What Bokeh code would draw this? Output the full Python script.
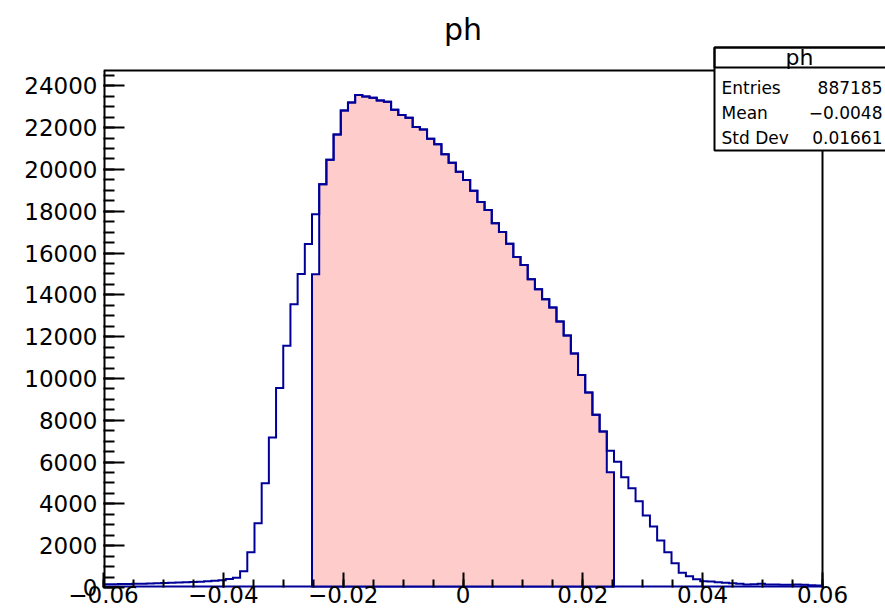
import numpy as np
from bokeh.plotting import figure
from bokeh.models import Range1d, FixedTicker, CustomJSTickFormatter, Label, BoxAnnotation
from bokeh.embed import file_html
from bokeh.resources import INLINE

# ---------------- data ----------------
plot_title = "ph"
x_min = -0.06
x_max = 0.06
n_bins = 100
counts = [
    150, 155, 165, 170, 180, 185, 195, 205, 215, 225,
    235, 250, 265, 280, 300, 320, 350, 410, 470, 779,
    1687, 3072, 4983, 7181, 9541, 11562, 13555, 15000, 16436, 17855,
    19288, 20463, 21677, 22824, 23206, 23555, 23493, 23426, 23302, 23235,
    22852, 22599, 22470, 22026, 21916, 21467, 21199, 20721, 20320, 19890,
    19500, 18985, 18442, 18060, 17425, 17009, 16450, 15815, 15432, 14749,
    14271, 13794, 13392, 12723, 12054, 11194, 10162, 9331, 8266, 7468,
    6546, 6020, 5270, 4743, 4123, 3440, 2914, 2246, 1687, 1162,
    707, 540, 397, 301, 287, 253, 225, 206, 177, 143,
    158, 177, 143, 143, 129, 129, 143, 129, 110, 96,
]
fill_first_bin = 29
fill_last_bin = 70
fill_edge_counts = [14990, 5509]   # partially filled edge bins of the shaded histogram

x_ticks = [-0.06, -0.04, -0.02, 0.0, 0.02, 0.04, 0.06]
x_tick_labels = ["\u22120.06", "\u22120.04", "\u22120.02", "0", "0.02", "0.04", "0.06"]
y_ticks = [0, 2000, 4000, 6000, 8000, 10000, 12000, 14000, 16000, 18000, 20000, 22000, 24000]
y_tick_labels = ["0", "2000", "4000", "6000", "8000", "10000", "12000", "14000",
                 "16000", "18000", "20000", "22000", "24000"]

stats_title = "ph"
stats_names = ["Entries", "Mean", "Std Dev"]
stats_values = ["887185", "\u22120.0048", "0.01661"]

# ---------------- style / layout ----------------
hist_color = "#000099"
fill_color = "#ffcccc"
FONT = "DejaVu Sans"
W, H = 885, 612
# pixel box of the ROOT frame inside the canvas
box_left_px, box_right_px, box_top_px, box_bottom_px = 103, 822, 70, 587

y_top = 1.05 * max(counts)
px_per_x = (box_right_px - box_left_px) / (x_max - x_min)
px_per_y = (box_bottom_px - box_top_px) / y_top
# the Bokeh frame spans the whole canvas right of / above the axes, so that the
# statistics box and the title (drawn as annotations) are not clipped
x_end = x_min + (W - box_left_px) / px_per_x
y_end = box_bottom_px / px_per_y


def sx(cx):
    return cx - box_left_px


def sy(cy):
    return box_bottom_px - cy


edges = np.linspace(x_min, x_max, n_bins + 1)


def step_path(e, vals):
    xs = np.repeat(e, 2)
    ys = np.concatenate([[0.0], np.repeat(np.asarray(vals, dtype=float), 2), [0.0]])
    return xs, ys


p = figure(width=W, height=H, output_backend="svg", toolbar_location=None, title=None,
           x_range=Range1d(x_min, x_end), y_range=Range1d(0, y_end),
           min_border_left=box_left_px, min_border_right=0,
           min_border_top=0, min_border_bottom=H - box_bottom_px)
p.grid.visible = False
p.background_fill_color = "white"
p.border_fill_color = "white"
p.outline_line_color = None

# shaded sub-range histogram
fill_counts = [fill_edge_counts[0]] + counts[fill_first_bin + 1:fill_last_bin] + [fill_edge_counts[1]]
fxs, fys = step_path(edges[fill_first_bin:fill_last_bin + 2], fill_counts)
p.patch(fxs, fys, fill_color=fill_color, fill_alpha=1.0, line_color=hist_color,
        line_width=2, line_join="miter")

# full histogram outline
hxs, hys = step_path(edges, counts)
p.line(hxs, hys, line_color=hist_color, line_width=2, line_join="miter")

# ROOT frame
p.line([x_min, x_min], [0, y_top], line_color="black", line_width=4)          # left (half clipped)
p.line([x_min, x_max], [0, 0], line_color=hist_color, line_width=4)           # bottom (half clipped)
p.line([x_min, x_max, x_max], [y_top, y_top, 0], line_color="black", line_width=2, line_join="miter")

# axes
xa = p.xaxis[0]
ya = p.yaxis[0]
xa.ticker = FixedTicker(ticks=x_ticks,
                        minor_ticks=[float(v) for v in np.round(np.arange(x_min, x_max + 1e-9, 0.005), 4)])
ya.ticker = FixedTicker(ticks=y_ticks, minor_ticks=[float(v) for v in np.arange(0, 25000, 500)])
fmt_code = """
const i = tick_vals.findIndex(t => Math.abs(t - tick) < 1e-9 * Math.max(1, Math.abs(t)));
return i >= 0 ? tick_text[i] : "";
"""
xa.formatter = CustomJSTickFormatter(args=dict(tick_vals=x_ticks, tick_text=x_tick_labels), code=fmt_code)
ya.formatter = CustomJSTickFormatter(args=dict(tick_vals=y_ticks, tick_text=y_tick_labels), code=fmt_code)
for ax in (xa, ya):
    ax.major_tick_out = 0
    ax.minor_tick_out = 0
    ax.major_tick_line_width = 2
    ax.minor_tick_line_width = 2
    ax.major_tick_line_color = "black"
    ax.minor_tick_line_color = "black"
    ax.axis_line_color = None
    ax.major_label_text_font = FONT
    ax.major_label_text_font_size = "23px"
    ax.major_label_text_color = "black"
xa.major_tick_in = 15
xa.minor_tick_in = 8
ya.major_tick_in = 21
ya.minor_tick_in = 11
xa.major_label_standoff = -2
ya.major_label_standoff = 6

# title
p.add_layout(Label(x=sx((box_left_px + box_right_px) / 2), y=sy(29), x_units="screen", y_units="screen",
                   text=plot_title, text_align="center", text_baseline="middle",
                   text_font=FONT, text_font_size="30px", text_color="black"))

# statistics box
st_l, st_r, st_t, st_b, st_head = 714, 887, 47, 150, 67
p.add_layout(BoxAnnotation(left=sx(st_l), right=sx(st_r), top=sy(st_t), bottom=sy(st_b),
                           left_units="screen", right_units="screen", top_units="screen", bottom_units="screen",
                           fill_color="white", fill_alpha=1.0, line_color="black", line_alpha=1.0,
                           line_width=2))
p.add_layout(BoxAnnotation(left=sx(st_l), right=sx(st_r), top=sy(st_t), bottom=sy(st_head),
                           left_units="screen", right_units="screen", top_units="screen", bottom_units="screen",
                           fill_alpha=0.0, line_color="black", line_alpha=1.0, line_width=2))
p.add_layout(Label(x=sx(799), y=sy(57), x_units="screen", y_units="screen", text=stats_title,
                   text_align="center", text_baseline="middle", text_font=FONT,
                   text_font_size="22px", text_color="black"))
row_y = [87, 112, 137]
for name, val, cy in zip(stats_names, stats_values, row_y):
    p.add_layout(Label(x=sx(721), y=sy(cy), x_units="screen", y_units="screen", text=name,
                       text_align="left", text_baseline="middle", text_font=FONT,
                       text_font_size="17px", text_color="black"))
    p.add_layout(Label(x=sx(882), y=sy(cy), x_units="screen", y_units="screen", text=val,
                       text_align="right", text_baseline="middle", text_font=FONT,
                       text_font_size="17px", text_color="black"))

open("out.html", "w").write(file_html(p, INLINE))
